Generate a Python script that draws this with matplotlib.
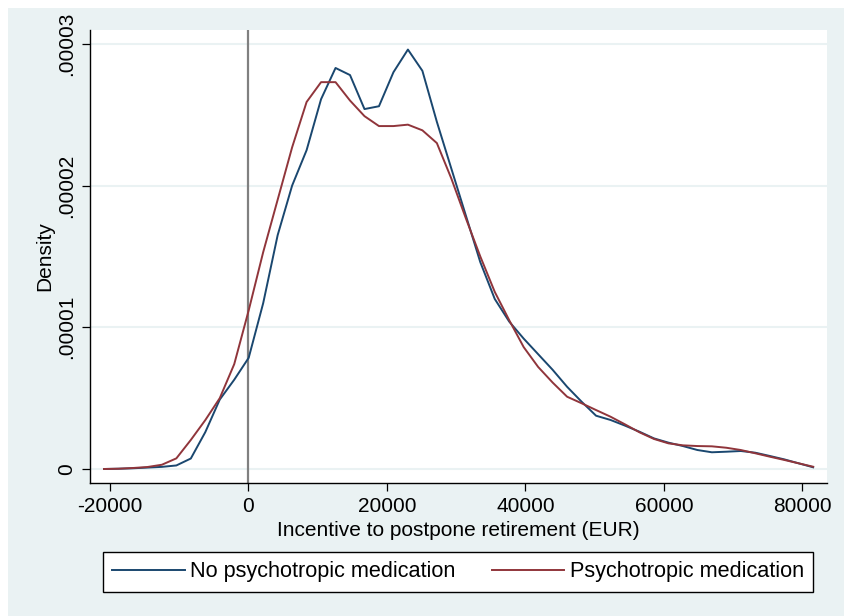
import matplotlib
matplotlib.use("Agg")
import matplotlib.pyplot as plt
from matplotlib.patches import Rectangle

plt.rcParams['font.family'] = ['Liberation Sans', 'DejaVu Sans']

# Evaluation points (EUR)
x_points = [-20870 + 2090 * i for i in range(50)]

# Kernel density values (units of 1e-5)
no_med = [0.0, 0.002, 0.005, 0.010, 0.015, 0.025, 0.074, 0.26, 0.49, 0.63,
          0.785, 1.17, 1.65, 2.0, 2.25, 2.61, 2.83, 2.78, 2.54, 2.56,
          2.80, 2.96, 2.81, 2.45, 2.12, 1.79, 1.46, 1.20, 1.04, 0.92,
          0.81, 0.70, 0.58, 0.475, 0.376, 0.346, 0.306, 0.263, 0.216, 0.186,
          0.162, 0.134, 0.118, 0.122, 0.127, 0.115, 0.092, 0.068, 0.040, 0.012]
med = [0.0, 0.002, 0.007, 0.014, 0.03, 0.075, 0.205, 0.345, 0.50, 0.74,
       1.12, 1.53, 1.90, 2.27, 2.59, 2.73, 2.73, 2.60, 2.49, 2.42,
       2.42, 2.43, 2.39, 2.30, 2.05, 1.77, 1.50, 1.25, 1.05, 0.86,
       0.72, 0.61, 0.51, 0.464, 0.416, 0.369, 0.315, 0.259, 0.212, 0.181,
       0.167, 0.162, 0.160, 0.150, 0.134, 0.111, 0.087, 0.064, 0.040, 0.016]

no_med_y = [v * 1e-5 for v in no_med]
med_y = [v * 1e-5 for v in med]

x_ticks = [-20000, 0, 20000, 40000, 60000, 80000]
x_tick_labels = ['-20000', '0', '20000', '40000', '60000', '80000']
y_ticks = [0, 1e-5, 2e-5, 3e-5]
y_tick_labels = ['0', '.00001', '.00002', '.00003']

labels = ['No psychotropic medication', 'Psychotropic medication']
colors = ['#1a476f', '#90353b']

W, H = 845, 616
BG = '#EAF2F3'
fig = plt.figure(figsize=(W / 100, H / 100), dpi=100, facecolor=BG)

# white border strip at top and left (as in the reference image)
fig.patches.append(Rectangle((0, 1 - 8 / H), 1, 8 / H, transform=fig.transFigure,
                             facecolor='white', edgecolor='none', zorder=-10))
fig.patches.append(Rectangle((0, 0), 8 / W, 1, transform=fig.transFigure,
                             facecolor='white', edgecolor='none', zorder=-10))

left, right, top, bottom = 90, 827, 30, 483
ax = fig.add_axes([left / W, 1 - bottom / H, (right - left) / W, (bottom - top) / H])
ax.set_facecolor('white')

ax.set_xlim(-22888, 83538)
ax.set_ylim(-0.0988e-5, 3.098e-5)

for yt in y_ticks:
    ax.axhline(yt, color=BG, lw=1.5, zorder=1)

ax.axvline(0, color='#808080', lw=1.6, zorder=2)

ax.plot(x_points, no_med_y, color=colors[0], lw=1.4, label=labels[0], zorder=3)
ax.plot(x_points, med_y, color=colors[1], lw=1.4, label=labels[1], zorder=3)

for s in ['top', 'right']:
    ax.spines[s].set_visible(False)
for s in ['left', 'bottom']:
    ax.spines[s].set_color('black')
    ax.spines[s].set_linewidth(1.0)

ax.set_xticks(x_ticks)
ax.set_xticklabels(x_tick_labels, fontsize=15)
ax.set_yticks(y_ticks)
ax.set_yticklabels(y_tick_labels, fontsize=15, rotation=90, va='center')
ax.tick_params(axis='both', direction='out', length=6, width=0.9, color='black', pad=4)

ax.set_xlabel('Incentive to postpone retirement (EUR)', fontsize=15)
ax.xaxis.set_label_coords(0.5, (bottom - 530) / (bottom - top))
ax.xaxis.label.set_va('center')
ax.set_ylabel('Density', fontsize=15)
ax.yaxis.set_label_coords((45 - left) / (right - left), 0.5)
ax.yaxis.label.set_va('center')

leg = fig.legend(loc='center', bbox_to_anchor=(458 / W, 1 - 572 / H), ncol=2,
                 fontsize=15.6, frameon=True, fancybox=False, edgecolor='black',
                 facecolor='white', framealpha=1, handlelength=3.35,
                 handletextpad=0.25, columnspacing=1.66, borderpad=0.45)
leg.get_frame().set_linewidth(1.0)

fig.savefig('out.png', dpi=100, facecolor=BG)
